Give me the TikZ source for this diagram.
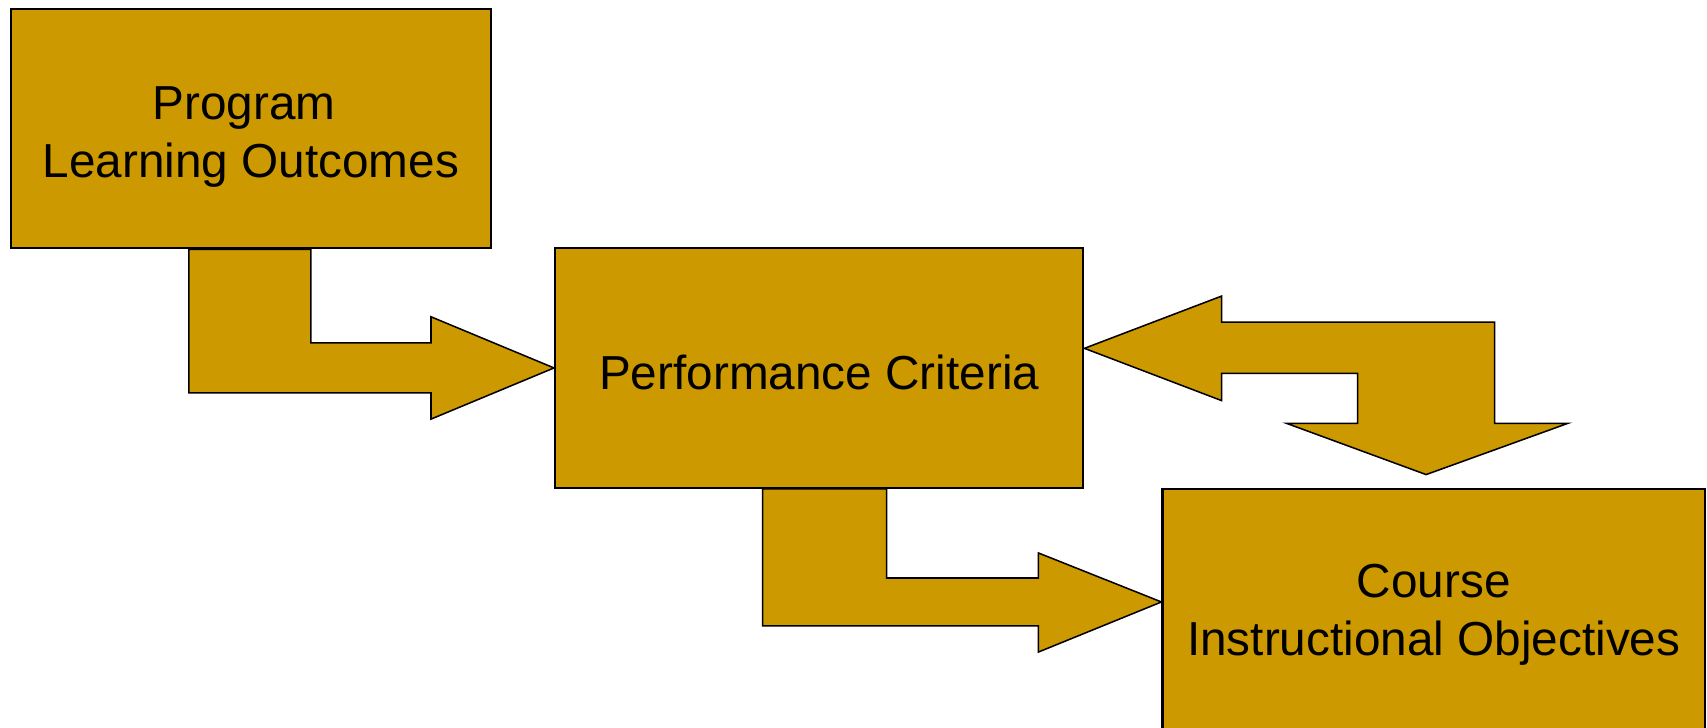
\documentclass[tikz,border=0pt]{standalone}
\usepackage{fontspec}
\setmainfont{Liberation Sans}
\usetikzlibrary{calc,backgrounds}
\definecolor{ocre}{RGB}{204,153,0}

\begin{document}
\begin{tikzpicture}[x=0.01cm,y=-0.01cm,line width=0.55pt,
  caja/.style={draw=black,fill=ocre,inner sep=0pt},
  texto/.style={inner sep=0pt,align=center,font=\fontsize{12.46}{15.1}\selectfont},
  flecha/.style={draw=black,fill=ocre,line join=miter}]
  \useasboundingbox (0,0) rectangle (1568,668);
  % cajas
  \node[caja,minimum width=4.41cm,minimum height=2.2cm] (plo) at (230.5,118) {};
  \node[caja,minimum width=4.85cm,minimum height=2.2cm] (pc) at (752.5,338) {};
  \node[caja,minimum width=4.98cm,minimum height=2.41cm] (cio) at (1317,569.5) {};
  \node[texto] (plotxt) at ($(plo)+(0,8)$) {Program\rule{0.13cm}{0pt}\\Learning Outcomes};
  \node[texto] (pctxt) at ($(pc)+(0,4)$) {Performance Criteria};
  \node[texto] (ciotxt) at ($(cio.north)+(0,117)$) {Course\\Instructional Objectives};
  % puntas
  \coordinate (tipB) at ($(cio.north west)+(0,105)$);
  \coordinate (tipC) at ($(pc.east)+(0,-18)$);
  \coordinate (tipD) at ($(cio.north)+(-7,-12)$);
  % flechas, detras de las cajas
  \begin{scope}[on background layer]
    \draw[flecha] ($(plo.south)+(-57,0)$) |- ($(pc.west)+(-113,23)$) -- ++(0,24) -- (pc.west)
      -- ++(-113,-47) -- ++(0,24) -| ($(plo.south)+(55,0)$) -- cycle;
    \draw[flecha] ($(pc.south)+(-52,0)$) |- ($(tipB)+(-113,22)$) -- ++(0,24) -- (tipB)
      -- ++(-113,-45) -- ++(0,23) -| ($(pc.south)+(62,0)$) -- cycle;
    % flecha de ida y vuelta
    \draw[flecha] (tipC) -- ++(126,-48) -- ++(0,24) -| ($(tipD)+(63,-47)$) -- ++(67,0) -- (tipD)
      -- ++(-128,-47) -- ++(65,0) |- ($(tipC)+(126,23)$) -- ++(0,25) -- cycle;
  \end{scope}
\end{tikzpicture}
\end{document}
